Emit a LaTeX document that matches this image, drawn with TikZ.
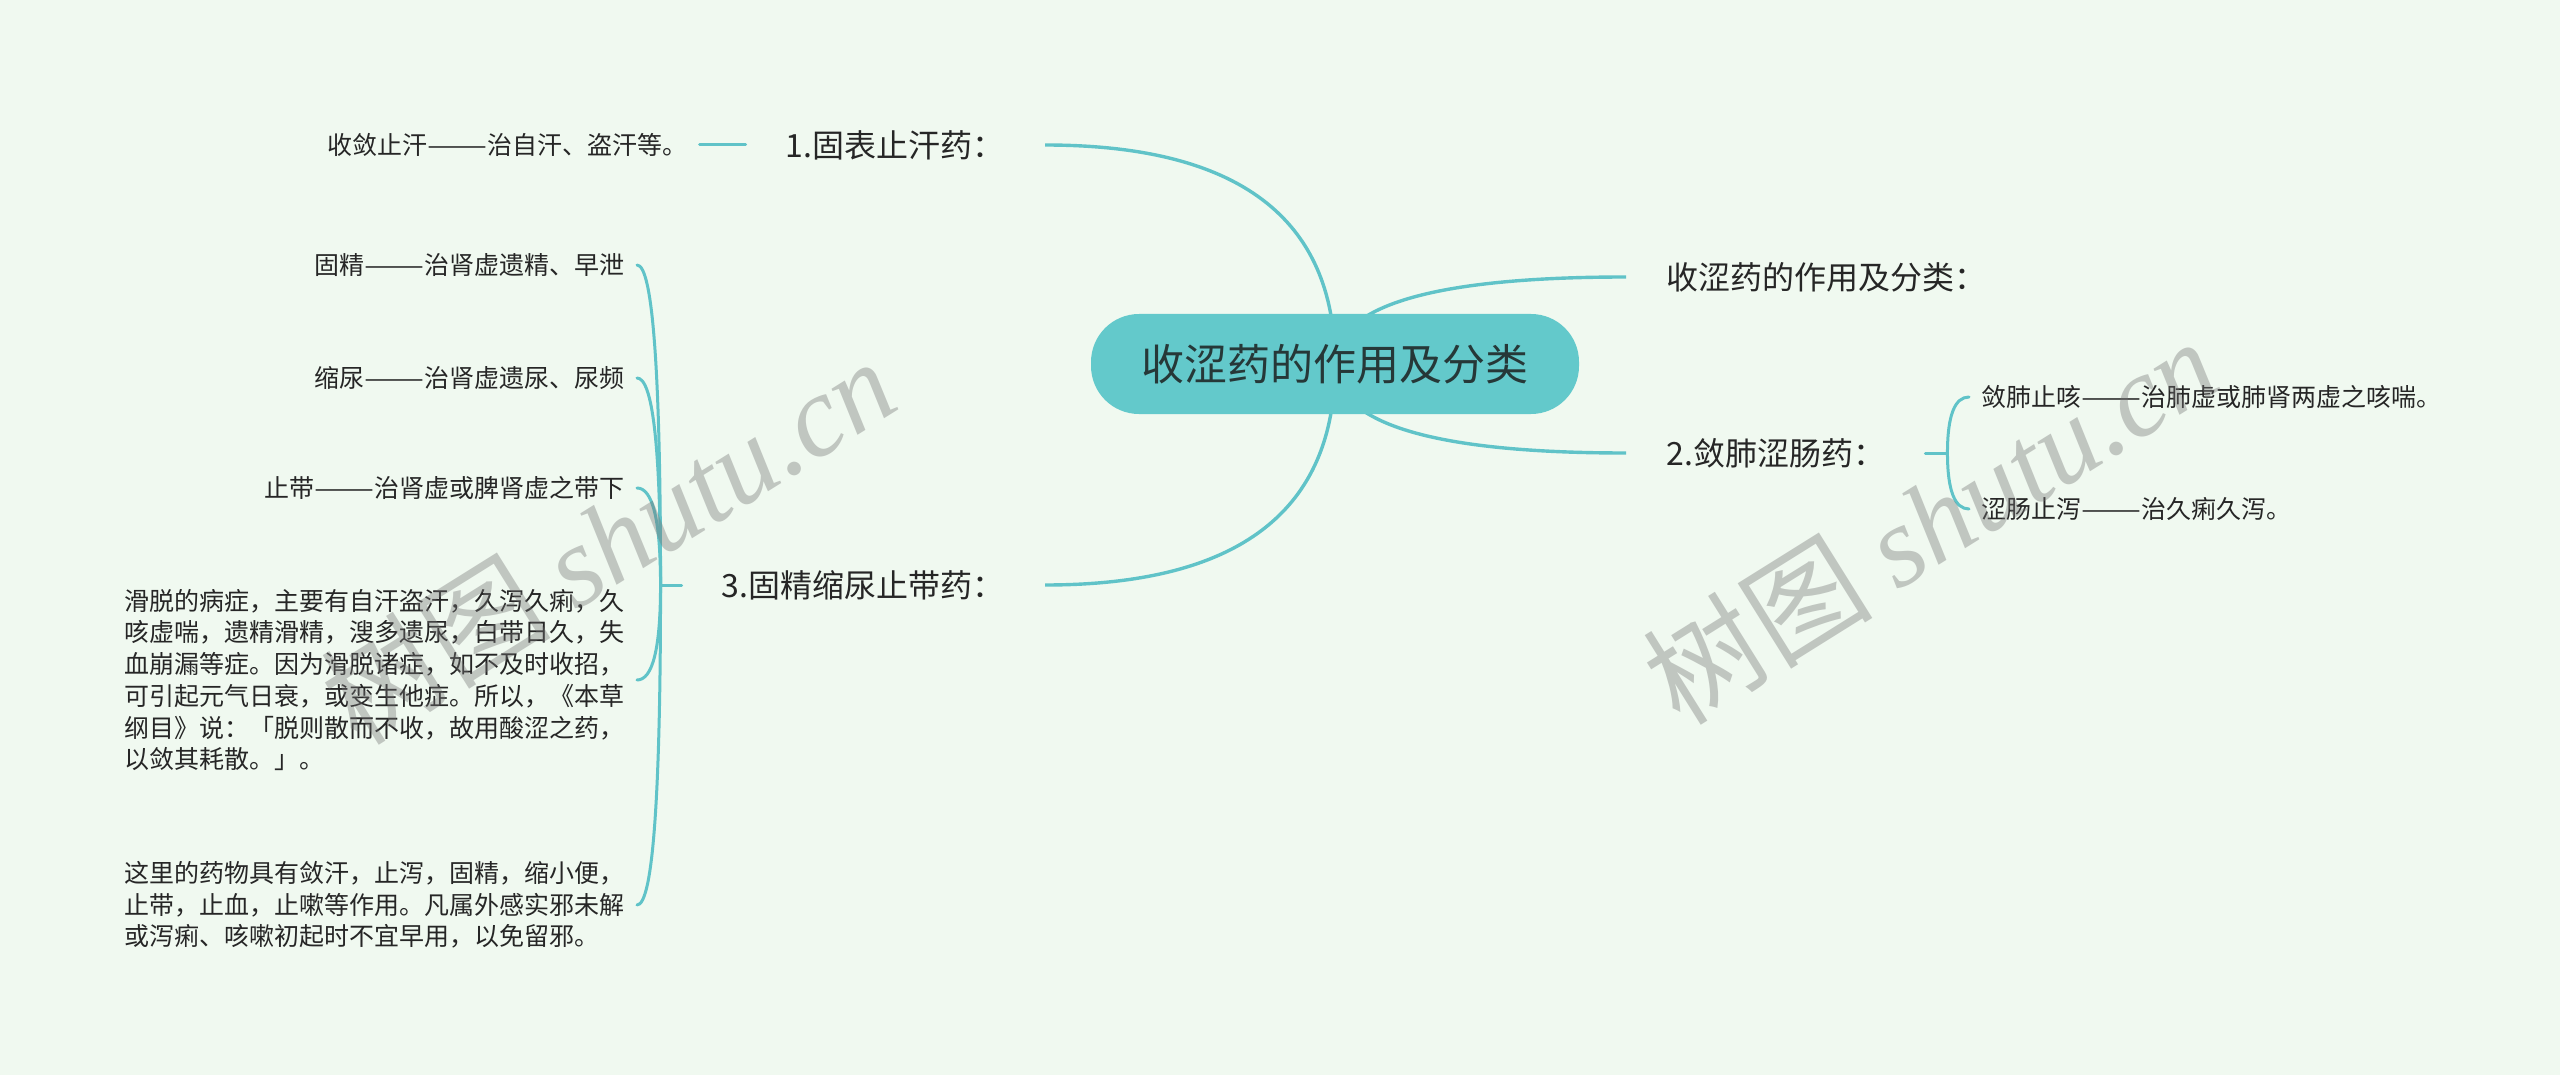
\documentclass[tikz,border=0pt]{standalone}
\usepackage{fontspec}
\usepackage{graphicx}
\usepackage{tikz}
\usetikzlibrary{positioning, calc}
\newfontfamily\cjk{Noto Sans CJK SC}
\newfontfamily\wmlatin{Liberation Serif}
\newcommand\longdash{\makebox[2.4em]{\resizebox{2.4em}{\height}{——}}}
\definecolor{paper}{RGB}{240,249,240}
\definecolor{stem}{RGB}{96,195,200}
\definecolor{hub}{RGB}{99,201,203}
\definecolor{ink}{RGB}{38,38,38}
\definecolor{hubink}{RGB}{38,56,56}
\pgfdeclarelayer{edges}
\pgfsetlayers{edges,main}

\begin{document}
\begin{tikzpicture}[x=0.5pt, y=-0.5pt,
    hubnode/.style={fill=hub, rounded corners=24pt, minimum width=244pt, minimum height=50pt,
        text=hubink, font=\cjk\fontsize{21.5}{26}\selectfont},
    topic/.style={inner xsep=20pt, text=ink, font=\cjk\fontsize{16}{20}\selectfont},
    leaf/.style={inner xsep=6pt, text=ink, font=\cjk\fontsize{12.5}{15.85}\selectfont},
    note/.style={leaf, align=left},
    link/.style={draw=stem, line width=1.7pt},
    twig/.style={draw=stem, line width=1.5pt, line cap=round},
    swoop/.style={to path={.. controls ($(\tikztostart)!2/3!(\tikztostart |- \tikztotarget)$)
        and ($(\tikztotarget)!2/3!(\tikztostart |- \tikztotarget)$) .. (\tikztotarget)}},
    stamp/.style={text=black!55, opacity=.38, rotate=32, font=\cjk\fontsize{57.5}{60}\selectfont}]
    \useasboundingbox (0,0) rectangle (2560,1075);

    % centre and main topics
    \node[hubnode] (root) at (1335,364) {收涩药的作用及分类};
    \node[topic, anchor=east] (b1) at (1045,145) {1.固表止汗药：};
    \node[topic, anchor=west] (b0) at (1626,277) {收涩药的作用及分类：};
    \node[topic, anchor=west] (b2) at (1626,453) {2.敛肺涩肠药：};
    \node[topic, anchor=east] (b3) at (1045,585) {3.固精缩尿止带药：};

    % sub topics
    \node[leaf, left=23pt of b1] (c11) {收敛止汗\longdash 治自汗、盗汗等。};
    \node[leaf, anchor=west] (c21) at (1969,397) {敛肺止咳\longdash 治肺虚或肺肾两虚之咳喘。};
    \node[leaf, anchor=west] (c22) at (1969,509) {涩肠止泻\longdash 治久痢久泻。};
    \node[leaf, anchor=east] (c31) at (637,265) {固精\longdash 治肾虚遗精、早泄};
    \node[leaf, anchor=east] (c32) at (637,378) {缩尿\longdash 治肾虚遗尿、尿频};
    \node[leaf, anchor=east] (c33) at (637,488) {止带\longdash 治肾虚或脾肾虚之带下};
    \node[note, anchor=east] (c34) at (637,680) {滑脱的病症，主要有自汗盗汗，久泻久痢，久\\
        咳虚喘，遗精滑精，溲多遗尿，白带日久，失\\
        血崩漏等症。因为滑脱诸症，如不及时收招，\\
        可引起元气日衰，或变生他症。所以，《本草\\
        纲目》说：「脱则散而不收，故用酸涩之药，\\
        以敛其耗散。」。};
    \node[note, anchor=east] (c35) at (637,905) {这里的药物具有敛汗，止泻，固精，缩小便，\\
        止带，止血，止嗽等作用。凡属外感实邪未解\\
        或泻痢、咳嗽初起时不宜早用，以免留邪。};

    \coordinate (b2t) at ([xshift=11pt]b2.east);
    \coordinate (b3t) at ([xshift=-10.5pt]b3.west);

    \begin{pgfonlayer}{edges}
        \fill[paper] (0,0) rectangle (2560,1075);
        \foreach \t/\a in {b1/east, b0/west, b2/west, b3/east}
            \draw[link] (root.center) to[swoop] (\t.\a);
        \draw[twig] (b1.west) -- (c11.east);
        \draw[twig] (b2.east) -- (b2t);
        \draw[twig] (b3.west) -- (b3t);
        \foreach \k in {c21, c22}
            \draw[twig] (b2t) to[swoop] (\k.west);
        \foreach \k in {c31, c32, c33, c34, c35}
            \draw[twig] (b3t) to[swoop] (\k.east);
    \end{pgfonlayer}

    % watermark
    \node[stamp] (wm1) at (608,540) {树图 {\wmlatin\itshape shutu.cn}};
    \node[stamp] (wm2) at (1930,520) {树图 {\wmlatin\itshape shutu.cn}};
\end{tikzpicture}
\end{document}
